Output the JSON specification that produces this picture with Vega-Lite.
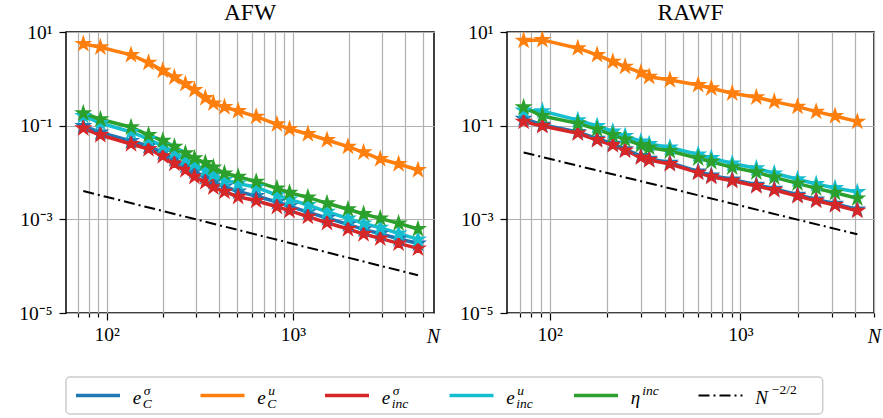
{
  "$schema": "https://vega.github.io/schema/vega-lite/v6.json",
  "background": "white",
  "padding": {"left": 17, "top": 0, "right": 2, "bottom": 6},
  "spacing": 29,
  "config": {
    "font": "Liberation Serif",
    "view": {"stroke": "black", "strokeWidth": 1.5},
    "axis": {"labelFont": "Liberation Serif", "labelFontSize": 19.5, "labelColor": "black", "tickColor": "black", "tickWidth": 1.2, "domain": false, "gridColor": "#b0b0b0", "gridWidth": 1.2, "gridOpacity": 1},
    "title": {"font": "Liberation Serif", "fontSize": 23.5, "fontWeight": "normal", "color": "black", "baseline": "alphabetic", "offset": -2.7, "frame": "group"}
  },
  "datasets": {
    "d": [
      {"panel":"AFW","series":"eC_sigma","N":74.8,"v":0.0986},{"panel":"AFW","series":"eC_sigma","N":92.4,"v":0.0716},{"panel":"AFW","series":"eC_sigma","N":135,"v":0.0471},{"panel":"AFW","series":"eC_sigma","N":167.6,"v":0.0368},{"panel":"AFW","series":"eC_sigma","N":200,"v":0.0267},{"panel":"AFW","series":"eC_sigma","N":230.9,"v":0.0194},{"panel":"AFW","series":"eC_sigma","N":264.6,"v":0.0141},{"panel":"AFW","series":"eC_sigma","N":295.9,"v":0.0105},{"panel":"AFW","series":"eC_sigma","N":338.5,"v":0.00801},{"panel":"AFW","series":"eC_sigma","N":373.9,"v":0.00626},{"panel":"AFW","series":"eC_sigma","N":428.9,"v":0.00502},{"panel":"AFW","series":"eC_sigma","N":508,"v":0.00393},{"panel":"AFW","series":"eC_sigma","N":635,"v":0.00315},{"panel":"AFW","series":"eC_sigma","N":821,"v":0.00234},{"panel":"AFW","series":"eC_sigma","N":959,"v":0.00192},{"panel":"AFW","series":"eC_sigma","N":1204,"v":0.00143},{"panel":"AFW","series":"eC_sigma","N":1525,"v":0.00107},{"panel":"AFW","series":"eC_sigma","N":1977,"v":0.000782},{"panel":"AFW","series":"eC_sigma","N":2398,"v":0.000611},{"panel":"AFW","series":"eC_sigma","N":2946,"v":0.000492},{"panel":"AFW","series":"eC_sigma","N":3697,"v":0.000385},{"panel":"AFW","series":"eC_sigma","N":4700,"v":0.000304},
      {"panel":"AFW","series":"eC_u","N":74.8,"v":5.57},{"panel":"AFW","series":"eC_u","N":92.4,"v":4.73},{"panel":"AFW","series":"eC_u","N":135,"v":3.24},{"panel":"AFW","series":"eC_u","N":167.6,"v":2.22},{"panel":"AFW","series":"eC_u","N":200,"v":1.5},{"panel":"AFW","series":"eC_u","N":230.9,"v":1.08},{"panel":"AFW","series":"eC_u","N":264.6,"v":0.778},{"panel":"AFW","series":"eC_u","N":295.9,"v":0.579},{"panel":"AFW","series":"eC_u","N":338.5,"v":0.39},{"panel":"AFW","series":"eC_u","N":373.9,"v":0.3},{"panel":"AFW","series":"eC_u","N":428.9,"v":0.25},{"panel":"AFW","series":"eC_u","N":508,"v":0.206},{"panel":"AFW","series":"eC_u","N":635,"v":0.156},{"panel":"AFW","series":"eC_u","N":821,"v":0.107},{"panel":"AFW","series":"eC_u","N":959,"v":0.085},{"panel":"AFW","series":"eC_u","N":1204,"v":0.0664},{"panel":"AFW","series":"eC_u","N":1525,"v":0.0494},{"panel":"AFW","series":"eC_u","N":1977,"v":0.0356},{"panel":"AFW","series":"eC_u","N":2398,"v":0.027},{"panel":"AFW","series":"eC_u","N":2946,"v":0.0194},{"panel":"AFW","series":"eC_u","N":3697,"v":0.0152},{"panel":"AFW","series":"eC_u","N":4700,"v":0.0113},
      {"panel":"AFW","series":"einc_sigma","N":74.8,"v":0.0879},{"panel":"AFW","series":"einc_sigma","N":92.4,"v":0.0633},{"panel":"AFW","series":"einc_sigma","N":135,"v":0.0406},{"panel":"AFW","series":"einc_sigma","N":167.6,"v":0.0318},{"panel":"AFW","series":"einc_sigma","N":200,"v":0.0225},{"panel":"AFW","series":"einc_sigma","N":230.9,"v":0.0156},{"panel":"AFW","series":"einc_sigma","N":264.6,"v":0.0113},{"panel":"AFW","series":"einc_sigma","N":295.9,"v":0.00813},{"panel":"AFW","series":"einc_sigma","N":338.5,"v":0.00626},{"panel":"AFW","series":"einc_sigma","N":373.9,"v":0.00483},{"panel":"AFW","series":"einc_sigma","N":428.9,"v":0.00389},{"panel":"AFW","series":"einc_sigma","N":508,"v":0.00304},{"panel":"AFW","series":"einc_sigma","N":635,"v":0.0025},{"panel":"AFW","series":"einc_sigma","N":821,"v":0.00186},{"panel":"AFW","series":"einc_sigma","N":959,"v":0.00153},{"panel":"AFW","series":"einc_sigma","N":1204,"v":0.00114},{"panel":"AFW","series":"einc_sigma","N":1525,"v":0.000846},{"panel":"AFW","series":"einc_sigma","N":1977,"v":0.000621},{"panel":"AFW","series":"einc_sigma","N":2398,"v":0.000485},{"panel":"AFW","series":"einc_sigma","N":2946,"v":0.000393},{"panel":"AFW","series":"einc_sigma","N":3697,"v":0.000307},{"panel":"AFW","series":"einc_sigma","N":4700,"v":0.00024},
      {"panel":"AFW","series":"einc_u","N":74.8,"v":0.161},{"panel":"AFW","series":"einc_u","N":92.4,"v":0.114},{"panel":"AFW","series":"einc_u","N":135,"v":0.0733},{"panel":"AFW","series":"einc_u","N":167.6,"v":0.0519},{"panel":"AFW","series":"einc_u","N":200,"v":0.0368},{"panel":"AFW","series":"einc_u","N":230.9,"v":0.0274},{"panel":"AFW","series":"einc_u","N":264.6,"v":0.0194},{"panel":"AFW","series":"einc_u","N":295.9,"v":0.0152},{"panel":"AFW","series":"einc_u","N":338.5,"v":0.0113},{"panel":"AFW","series":"einc_u","N":373.9,"v":0.00906},{"panel":"AFW","series":"einc_u","N":428.9,"v":0.00691},{"panel":"AFW","series":"einc_u","N":508,"v":0.00582},{"panel":"AFW","series":"einc_u","N":635,"v":0.00483},{"panel":"AFW","series":"einc_u","N":821,"v":0.0033},{"panel":"AFW","series":"einc_u","N":959,"v":0.00267},{"panel":"AFW","series":"einc_u","N":1204,"v":0.00202},{"panel":"AFW","series":"einc_u","N":1525,"v":0.00145},{"panel":"AFW","series":"einc_u","N":1977,"v":0.00105},{"panel":"AFW","series":"einc_u","N":2398,"v":0.000822},{"panel":"AFW","series":"einc_u","N":2946,"v":0.000662},{"panel":"AFW","series":"einc_u","N":3697,"v":0.000502},{"panel":"AFW","series":"einc_u","N":4700,"v":0.000374},
      {"panel":"AFW","series":"eta_inc","N":74.8,"v":0.184},{"panel":"AFW","series":"eta_inc","N":92.4,"v":0.137},{"panel":"AFW","series":"eta_inc","N":135,"v":0.0925},{"panel":"AFW","series":"eta_inc","N":167.6,"v":0.0633},{"panel":"AFW","series":"eta_inc","N":200,"v":0.0478},{"panel":"AFW","series":"eta_inc","N":230.9,"v":0.0356},{"panel":"AFW","series":"eta_inc","N":264.6,"v":0.0257},{"panel":"AFW","series":"eta_inc","N":295.9,"v":0.0201},{"panel":"AFW","series":"eta_inc","N":338.5,"v":0.016},{"panel":"AFW","series":"eta_inc","N":373.9,"v":0.0129},{"panel":"AFW","series":"eta_inc","N":428.9,"v":0.00961},{"panel":"AFW","series":"eta_inc","N":508,"v":0.00813},{"panel":"AFW","series":"eta_inc","N":635,"v":0.00636},{"panel":"AFW","series":"eta_inc","N":821,"v":0.00459},{"panel":"AFW","series":"eta_inc","N":959,"v":0.0037},{"panel":"AFW","series":"eta_inc","N":1204,"v":0.00295},{"panel":"AFW","series":"eta_inc","N":1525,"v":0.0022},{"panel":"AFW","series":"eta_inc","N":1977,"v":0.00164},{"panel":"AFW","series":"eta_inc","N":2398,"v":0.0013},{"panel":"AFW","series":"eta_inc","N":2946,"v":0.00105},{"panel":"AFW","series":"eta_inc","N":3697,"v":0.000822},{"panel":"AFW","series":"eta_inc","N":4700,"v":0.000621},
      {"panel":"AFW","series":"ref","N":74.8,"v":0.00402},{"panel":"AFW","series":"ref","N":4700,"v":0.000064},
      {"panel":"RAWF","series":"eC_sigma","N":73.1,"v":0.141},{"panel":"RAWF","series":"eC_sigma","N":91.6,"v":0.105},{"panel":"RAWF","series":"eC_sigma","N":140.5,"v":0.0735},{"panel":"RAWF","series":"eC_sigma","N":177.3,"v":0.0527},{"panel":"RAWF","series":"eC_sigma","N":214.3,"v":0.0413},{"panel":"RAWF","series":"eC_sigma","N":248.5,"v":0.0315},{"panel":"RAWF","series":"eC_sigma","N":300.8,"v":0.0225},{"panel":"RAWF","series":"eC_sigma","N":332.4,"v":0.0197},{"panel":"RAWF","series":"eC_sigma","N":426.6,"v":0.0162},{"panel":"RAWF","series":"eC_sigma","N":600,"v":0.0106},{"panel":"RAWF","series":"eC_sigma","N":703,"v":0.00867},{"panel":"RAWF","series":"eC_sigma","N":905,"v":0.00712},{"panel":"RAWF","series":"eC_sigma","N":1211,"v":0.00548},{"panel":"RAWF","series":"eC_sigma","N":1503,"v":0.0045},{"panel":"RAWF","series":"eC_sigma","N":1990,"v":0.00336},{"panel":"RAWF","series":"eC_sigma","N":2491,"v":0.00267},{"panel":"RAWF","series":"eC_sigma","N":3128,"v":0.00215},{"panel":"RAWF","series":"eC_sigma","N":4093,"v":0.00163},
      {"panel":"RAWF","series":"eC_u","N":73.1,"v":6.55},{"panel":"RAWF","series":"eC_u","N":91.6,"v":6.78},{"panel":"RAWF","series":"eC_u","N":140.5,"v":4.51},{"panel":"RAWF","series":"eC_u","N":177.3,"v":3.24},{"panel":"RAWF","series":"eC_u","N":214.3,"v":2.33},{"panel":"RAWF","series":"eC_u","N":248.5,"v":1.82},{"panel":"RAWF","series":"eC_u","N":300.8,"v":1.36},{"panel":"RAWF","series":"eC_u","N":332.4,"v":1.11},{"panel":"RAWF","series":"eC_u","N":426.6,"v":0.946},{"panel":"RAWF","series":"eC_u","N":600,"v":0.741},{"panel":"RAWF","series":"eC_u","N":703,"v":0.63},{"panel":"RAWF","series":"eC_u","N":905,"v":0.492},{"panel":"RAWF","series":"eC_u","N":1211,"v":0.404},{"panel":"RAWF","series":"eC_u","N":1503,"v":0.326},{"panel":"RAWF","series":"eC_u","N":1990,"v":0.255},{"panel":"RAWF","series":"eC_u","N":2491,"v":0.199},{"panel":"RAWF","series":"eC_u","N":3128,"v":0.161},{"panel":"RAWF","series":"eC_u","N":4093,"v":0.122},
      {"panel":"RAWF","series":"einc_sigma","N":73.1,"v":0.122},{"panel":"RAWF","series":"einc_sigma","N":91.6,"v":0.0986},{"panel":"RAWF","series":"einc_sigma","N":140.5,"v":0.0689},{"panel":"RAWF","series":"einc_sigma","N":177.3,"v":0.0494},{"panel":"RAWF","series":"einc_sigma","N":214.3,"v":0.0387},{"panel":"RAWF","series":"einc_sigma","N":248.5,"v":0.0295},{"panel":"RAWF","series":"einc_sigma","N":300.8,"v":0.0211},{"panel":"RAWF","series":"einc_sigma","N":332.4,"v":0.0185},{"panel":"RAWF","series":"einc_sigma","N":426.6,"v":0.0152},{"panel":"RAWF","series":"einc_sigma","N":600,"v":0.00991},{"panel":"RAWF","series":"einc_sigma","N":703,"v":0.00813},{"panel":"RAWF","series":"einc_sigma","N":905,"v":0.00668},{"panel":"RAWF","series":"einc_sigma","N":1211,"v":0.00514},{"panel":"RAWF","series":"einc_sigma","N":1503,"v":0.00422},{"panel":"RAWF","series":"einc_sigma","N":1990,"v":0.00315},{"panel":"RAWF","series":"einc_sigma","N":2491,"v":0.0025},{"panel":"RAWF","series":"einc_sigma","N":3128,"v":0.00202},{"panel":"RAWF","series":"einc_sigma","N":4093,"v":0.00153},
      {"panel":"RAWF","series":"einc_u","N":73.1,"v":0.211},{"panel":"RAWF","series":"einc_u","N":91.6,"v":0.205},{"panel":"RAWF","series":"einc_u","N":140.5,"v":0.131},{"panel":"RAWF","series":"einc_u","N":177.3,"v":0.0986},{"panel":"RAWF","series":"einc_u","N":214.3,"v":0.0752},{"panel":"RAWF","series":"einc_u","N":248.5,"v":0.0602},{"panel":"RAWF","series":"einc_u","N":300.8,"v":0.046},{"panel":"RAWF","series":"einc_u","N":332.4,"v":0.0406},{"panel":"RAWF","series":"einc_u","N":426.6,"v":0.0342},{"panel":"RAWF","series":"einc_u","N":600,"v":0.0243},{"panel":"RAWF","series":"einc_u","N":703,"v":0.0204},{"panel":"RAWF","series":"einc_u","N":905,"v":0.0156},{"panel":"RAWF","series":"einc_u","N":1211,"v":0.0123},{"panel":"RAWF","series":"einc_u","N":1503,"v":0.00961},{"panel":"RAWF","series":"einc_u","N":1990,"v":0.00716},{"panel":"RAWF","series":"einc_u","N":2491,"v":0.00568},{"panel":"RAWF","series":"einc_u","N":3128,"v":0.00466},{"panel":"RAWF","series":"einc_u","N":4093,"v":0.00383},
      {"panel":"RAWF","series":"eta_inc","N":73.1,"v":0.247},{"panel":"RAWF","series":"eta_inc","N":91.6,"v":0.161},{"panel":"RAWF","series":"eta_inc","N":140.5,"v":0.112},{"panel":"RAWF","series":"eta_inc","N":177.3,"v":0.0837},{"panel":"RAWF","series":"eta_inc","N":214.3,"v":0.0633},{"panel":"RAWF","series":"eta_inc","N":248.5,"v":0.0507},{"panel":"RAWF","series":"eta_inc","N":300.8,"v":0.0387},{"panel":"RAWF","series":"eta_inc","N":332.4,"v":0.0342},{"panel":"RAWF","series":"eta_inc","N":426.6,"v":0.0288},{"panel":"RAWF","series":"eta_inc","N":600,"v":0.0201},{"panel":"RAWF","series":"eta_inc","N":703,"v":0.017},{"panel":"RAWF","series":"eta_inc","N":905,"v":0.0129},{"panel":"RAWF","series":"eta_inc","N":1211,"v":0.0101},{"panel":"RAWF","series":"eta_inc","N":1503,"v":0.00789},{"panel":"RAWF","series":"eta_inc","N":1990,"v":0.00587},{"panel":"RAWF","series":"eta_inc","N":2491,"v":0.00459},{"panel":"RAWF","series":"eta_inc","N":3128,"v":0.0037},{"panel":"RAWF","series":"eta_inc","N":4093,"v":0.00281},
      {"panel":"RAWF","series":"ref","N":73.1,"v":0.0268},{"panel":"RAWF","series":"ref","N":4093,"v":0.000479}
    ],
    "leg": [
      {"item":"eC_sigma","base":"e","sup":"σ","sub":"C"},
      {"item":"eC_u","base":"e","sup":"u","sub":"C"},
      {"item":"einc_sigma","base":"e","sup":"σ","sub":"inc"},
      {"item":"einc_u","base":"e","sup":"u","sub":"inc"},
      {"item":"eta_inc","base":"η","sup":"inc","sub":""},
      {"item":"ref","base":"N","sup":"−2/2","sub":""}
    ]
  },
  "vconcat": [
    {
      "spacing": 17,
      "hconcat": [
        {
          "title": {"text": "AFW"},
          "width": 368, "height": 281,
          "data": {"name": "d"},
          "transform": [{"filter": "datum.panel === 'AFW'"}],
          "encoding": {
            "x": {"field": "N", "type": "quantitative", "scale": {"type": "log", "domain": [60.4, 5730], "nice": false},
              "axis": {"values": [70,80,90,100,200,300,400,500,600,700,800,900,1000,2000,3000,4000,5000], "grid": true,
                "labelExpr": "datum.value == 100 ? '10²' : datum.value == 1000 ? '10³' : ''",
                "tickSize": {"condition": {"test": "datum.value == 100 || datum.value == 1000", "value": 7}, "value": 4},
                "labelPadding": 5, "labelFlush": false, "labelOverlap": false,
                "title": "N", "titleFont": "Liberation Serif", "titleFontStyle": "italic", "titleFontWeight": "normal", "titleFontSize": 20,
                "titleX": 367, "titleY": 29, "titleAlign": "center", "titleBaseline": "alphabetic", "titleAngle": 0}},
            "y": {"field": "v", "type": "quantitative", "scale": {"type": "log", "domain": [0.00001, 10], "nice": false},
              "axis": {"values": [0.00001, 0.001, 0.1, 10], "grid": true, "tickSize": 7, "labelPadding": 7, "title": null,
                "labelExpr": "datum.value >= 5 ? '10¹' : datum.value >= 0.05 ? '10⁻¹' : datum.value >= 0.0005 ? '10⁻³' : '10⁻⁵'"}}
          },
          "layer": [
            {"transform": [{"filter": "datum.series !== 'ref'"}],
             "mark": {"type": "line", "strokeWidth": 3.5},
             "encoding": {"color": {"field": "series", "type": "nominal", "legend": null,
               "scale": {"domain": ["eC_sigma","eC_u","einc_sigma","einc_u","eta_inc"], "range": ["#1f77b4","#ff7f0e","#d62728","#17becf","#2ca02c"]}}}},
            {"transform": [{"filter": "datum.series !== 'ref'"}],
             "mark": {"type": "point", "filled": true, "opacity": 1, "size": 190, "strokeWidth": 1.6,
               "shape": "M0,-1L0.2245,-0.309L0.9511,-0.309L0.3633,0.118L0.5878,0.809L0,0.382L-0.5878,0.809L-0.3633,0.118L-0.9511,-0.309L-0.2245,-0.309Z"},
             "encoding": {"color": {"field": "series", "type": "nominal", "legend": null,
               "scale": {"domain": ["eC_sigma","eC_u","einc_sigma","einc_u","eta_inc"], "range": ["#1f77b4","#ff7f0e","#d62728","#17becf","#2ca02c"]}},
               "stroke": {"field": "series", "type": "nominal", "legend": null,
               "scale": {"domain": ["eC_sigma","eC_u","einc_sigma","einc_u","eta_inc"], "range": ["#1f77b4","#ff7f0e","#d62728","#17becf","#2ca02c"]}}}},
            {"transform": [{"filter": "datum.series === 'ref'"}],
             "mark": {"type": "line", "color": "black", "strokeWidth": 2, "strokeDash": [11, 4, 2, 4]},
             "encoding": {}}
          ]
        },
        {
          "title": {"text": "RAWF"},
          "width": 367, "height": 281,
          "data": {"name": "d"},
          "transform": [{"filter": "datum.panel === 'RAWF'"}],
          "encoding": {
            "x": {"field": "N", "type": "quantitative", "scale": {"type": "log", "domain": [59.8, 5006], "nice": false},
              "axis": {"values": [70,80,90,100,200,300,400,500,600,700,800,900,1000,2000,3000,4000,5000], "grid": true,
                "labelExpr": "datum.value == 100 ? '10²' : datum.value == 1000 ? '10³' : ''",
                "tickSize": {"condition": {"test": "datum.value == 100 || datum.value == 1000", "value": 7}, "value": 4},
                "labelPadding": 5, "labelFlush": false, "labelOverlap": false,
                "title": "N", "titleFont": "Liberation Serif", "titleFontStyle": "italic", "titleFontWeight": "normal", "titleFontSize": 20,
                "titleX": 367, "titleY": 29, "titleAlign": "center", "titleBaseline": "alphabetic", "titleAngle": 0}},
            "y": {"field": "v", "type": "quantitative", "scale": {"type": "log", "domain": [0.00001, 10], "nice": false},
              "axis": {"values": [0.00001, 0.001, 0.1, 10], "grid": true, "tickSize": 7, "labelPadding": 7, "title": null,
                "labelExpr": "datum.value >= 5 ? '10¹' : datum.value >= 0.05 ? '10⁻¹' : datum.value >= 0.0005 ? '10⁻³' : '10⁻⁵'"}}
          },
          "layer": [
            {"transform": [{"filter": "datum.series !== 'ref'"}],
             "mark": {"type": "line", "strokeWidth": 3.5},
             "encoding": {"color": {"field": "series", "type": "nominal", "legend": null,
               "scale": {"domain": ["eC_sigma","eC_u","einc_sigma","einc_u","eta_inc"], "range": ["#1f77b4","#ff7f0e","#d62728","#17becf","#2ca02c"]}}}},
            {"transform": [{"filter": "datum.series !== 'ref'"}],
             "mark": {"type": "point", "filled": true, "opacity": 1, "size": 190, "strokeWidth": 1.6,
               "shape": "M0,-1L0.2245,-0.309L0.9511,-0.309L0.3633,0.118L0.5878,0.809L0,0.382L-0.5878,0.809L-0.3633,0.118L-0.9511,-0.309L-0.2245,-0.309Z"},
             "encoding": {"color": {"field": "series", "type": "nominal", "legend": null,
               "scale": {"domain": ["eC_sigma","eC_u","einc_sigma","einc_u","eta_inc"], "range": ["#1f77b4","#ff7f0e","#d62728","#17becf","#2ca02c"]}},
               "stroke": {"field": "series", "type": "nominal", "legend": null,
               "scale": {"domain": ["eC_sigma","eC_u","einc_sigma","einc_u","eta_inc"], "range": ["#1f77b4","#ff7f0e","#d62728","#17becf","#2ca02c"]}}}},
            {"transform": [{"filter": "datum.series === 'ref'"}],
             "mark": {"type": "line", "color": "black", "strokeWidth": 2, "strokeDash": [11, 4, 2, 4]},
             "encoding": {}}
          ]
        }
      ]
    },
    {
      "width": 756.7, "height": 37,
      "view": {"stroke": "#cccccc", "strokeWidth": 1.5, "cornerRadius": 4},
      "data": {"name": "leg"},
      "encoding": {
        "x": {"field": "item", "type": "nominal", "bandPosition": 0, "axis": null,
          "scale": {"type": "band", "domain": ["eC_sigma","eC_u","einc_sigma","einc_u","eta_inc","ref"], "paddingInner": 0, "paddingOuter": 0.039}}
      },
      "layer": [
        {"transform": [{"filter": "datum.item !== 'ref'"}],
         "mark": {"type": "rule", "strokeWidth": 3.5, "xOffset": 5.15, "x2Offset": 49.15},
         "encoding": {"x2": {"field": "item", "bandPosition": 0},
           "color": {"field": "item", "type": "nominal", "legend": null,
             "scale": {"domain": ["eC_sigma","eC_u","einc_sigma","einc_u","eta_inc"], "range": ["#1f77b4","#ff7f0e","#d62728","#17becf","#2ca02c"]}}}},
        {"transform": [{"filter": "datum.item === 'ref'"}],
         "mark": {"type": "rule", "strokeWidth": 2, "color": "black", "strokeDash": [11, 4, 2, 4], "xOffset": 5.15, "x2Offset": 49.15},
         "encoding": {"x2": {"field": "item", "bandPosition": 0}}},
        {"mark": {"type": "text", "font": "Liberation Serif", "fontStyle": "italic", "fontSize": 19, "align": "left", "baseline": "alphabetic", "xOffset": 61.85, "dy": 8.2, "color": "black"},
         "encoding": {"text": {"field": "base"}}},
        {"transform": [{"filter": "datum.base === 'e'"}],
         "mark": {"type": "text", "font": "Liberation Serif", "fontStyle": "italic", "fontSize": 13.5, "align": "left", "baseline": "alphabetic", "xOffset": 72.85, "dy": -0.8, "color": "black"},
         "encoding": {"text": {"field": "sup"}}},
        {"transform": [{"filter": "datum.base === 'e'"}],
         "mark": {"type": "text", "font": "Liberation Serif", "fontStyle": "italic", "fontSize": 13.5, "align": "left", "baseline": "alphabetic", "xOffset": 71.85, "dy": 12.5, "color": "black"},
         "encoding": {"text": {"field": "sub"}}},
        {"transform": [{"filter": "datum.base === 'η'"}],
         "mark": {"type": "text", "font": "Liberation Serif", "fontStyle": "italic", "fontSize": 13.5, "align": "left", "baseline": "alphabetic", "xOffset": 73.45, "dy": -0.5, "color": "black"},
         "encoding": {"text": {"field": "sup"}}},
        {"transform": [{"filter": "datum.base === 'N'"}],
         "mark": {"type": "text", "font": "Liberation Serif", "fontStyle": "normal", "fontSize": 13.5, "align": "left", "baseline": "alphabetic", "xOffset": 78.45, "dy": -1.8, "color": "black"},
         "encoding": {"text": {"field": "sup"}}}
      ]
    }
  ]
}
